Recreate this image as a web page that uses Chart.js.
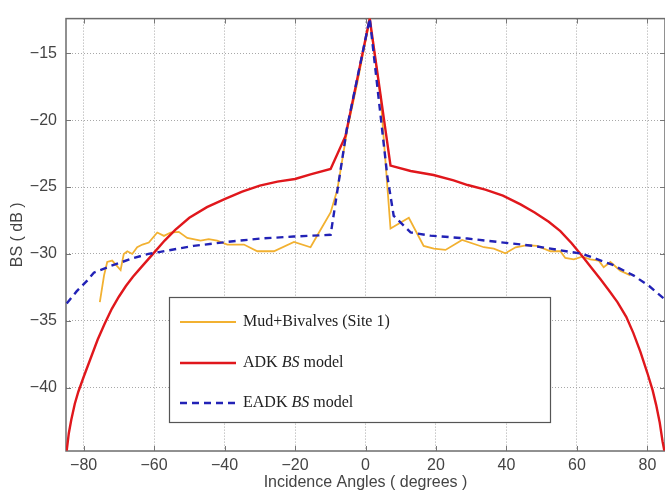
<!DOCTYPE html>
<html>
<head>
<meta charset="utf-8">
<script src="https://cdn.jsdelivr.net/npm/chart.js@4.4.1/dist/chart.umd.min.js"></script>
<style>
  html, body { margin: 0; padding: 0; background: #fff; }
  canvas { display: block; }
</style>
</head>
<body>
<canvas id="chart" width="665" height="491"></canvas>
<script>
// measured backscatter, Mud+Bivalves (Site 1)
const mudAngles = [-75.4, -74.2, -73.3, -71.9, -69.5, -68.6, -67.6, -66.2, -64.8, -63.3, -61.5, -59.1, -57.2, -55.3,
  -53.0, -50.6, -46.8, -44.5, -42.1, -39.2, -34.5, -30.7, -26.0, -20.3, -15.6, -13.2, -9.9, -8.0, -5.2, -2.4,
  1.2, 4.3, 7.1, 12.3, 16.5, 19.4, 22.7, 27.4, 33.6, 36.4, 39.7, 42.6, 45.9, 48.7, 52.5, 55.3, 56.7, 59.1,
  61.5, 63.8, 66.2, 67.6, 69.5, 72.3, 75.2];
const mudBS = [-33.6, -31.6, -30.6, -30.5, -31.2, -30.0, -29.8, -30.0, -29.5, -29.3, -29.15, -28.4, -28.65, -28.4,
  -28.35, -28.8, -29.0, -28.9, -29.0, -29.3, -29.3, -29.8, -29.8, -29.1, -29.5, -28.4, -26.9, -25.2, -20.75, -17.3,
  -12.5, -18.3, -28.1, -27.3, -29.4, -29.6, -29.7, -28.95, -29.5, -29.6, -29.95, -29.5, -29.35, -29.4, -29.8, -29.8, -30.3, -30.4,
  -30.2, -30.4, -30.5, -31.0, -30.6, -31.25, -31.6];

// ADK model
const adkAngles = [-84.8, -84.2, -83.5, -82.5, -81.5, -80, -78, -76, -74, -72, -70, -68, -66, -64, -62, -60,
  -57, -54, -50, -45, -40, -35, -30, -25, -20, -15.6, -9.9, -5.7, 1.2, 7.1, 12.8, 19.3, 25, 29, 34, 39, 44,
  48, 52, 55.3, 58.5, 61.6, 64, 66.7, 69, 71.5, 74, 76, 78, 80, 81.5, 82.5, 83.5, 84.3, 84.8];
const adkBS = [-44.7, -43.4, -42.4, -41.2, -40.3, -39.2, -37.8, -36.4, -35.2, -34.1, -33.2, -32.4, -31.7, -31.1, -30.5, -29.9,
  -29.0, -28.2, -27.3, -26.5, -25.9, -25.35, -24.9, -24.6, -24.4, -24.05, -23.65, -21.2, -12.4, -23.4, -23.8, -24.1, -24.5, -24.85, -25.2, -25.65, -26.3,
  -26.9, -27.6, -28.3, -29.2, -30.2, -31.0, -31.9, -32.7, -33.6, -34.7, -35.9, -37.3, -38.9, -40.2, -41.3, -42.6, -44.0, -44.7];

// EADK model
const eadkAngles = [-84.8, -82, -79, -77.1, -72.3, -65.8, -61.6, -48.8, -39.2, -29.8, -20.4, -9.9, -5.2, 1.2,
  6.2, 8.0, 12.8, 18.4, 28.9, 47.7, 61.6, 70, 76.0, 80.5, 85];
const eadkBS = [-33.7, -32.8, -32.0, -31.4, -30.9, -30.3, -30.0, -29.4, -29.1, -28.85, -28.7, -28.57, -20.5, -12.4,
  -24.2, -27.15, -28.39, -28.63, -28.85, -29.4, -30.0, -30.8, -31.6, -32.4, -33.4];

const xTickValues = [-80, -60, -40, -20, 0, 20, 40, 60, 80];
const yTickValues = [-40, -35, -30, -25, -20, -15];

const toPoints = (xs, ys) => xs.map((x, i) => ({ x: x, y: ys[i] }));
const fmt = v => (v < 0 ? '\u2212' : '') + Math.abs(v);

const frame = {
  id: 'frame',
  beforeDatasetsDraw(chart) {
    const { ctx, chartArea: a, scales } = chart;
    ctx.save();
    ctx.strokeStyle = '#777';
    ctx.lineWidth = 1;
    ctx.beginPath();
    scales.x.ticks.forEach(t => {
      const px = Math.round(scales.x.getPixelForValue(t.value)) + 0.5;
      ctx.moveTo(px, a.bottom); ctx.lineTo(px, a.bottom - 5);
      ctx.moveTo(px, a.top); ctx.lineTo(px, a.top + 5);
    });
    scales.y.ticks.forEach(t => {
      const py = Math.round(scales.y.getPixelForValue(t.value)) + 0.5;
      ctx.moveTo(a.left, py); ctx.lineTo(a.left + 5, py);
      ctx.moveTo(a.right, py); ctx.lineTo(a.right - 5, py);
    });
    ctx.stroke();
    ctx.lineWidth = 1.5;
    ctx.strokeStyle = '#6c6c6c';
    ctx.strokeRect(a.left, a.top, a.right - a.left, a.bottom - a.top);
    ctx.restore();
  }
};

const legendBox = {
  id: 'legendBox',
  afterDatasetsDraw(chart) {
    const { ctx } = chart;
    const x0 = 169, y0 = 297, w = 381, h = 125;
    const rows = [322, 363, 403];
    ctx.save();
    ctx.fillStyle = '#fff';
    ctx.fillRect(x0, y0, w, h);
    ctx.strokeStyle = '#555';
    ctx.lineWidth = 1.2;
    ctx.strokeRect(x0 + 0.5, y0 + 0.5, w, h);
    chart.data.datasets.forEach((ds, i) => {
      const y = rows[i];
      ctx.beginPath();
      ctx.setLineDash(ds.borderDash || []);
      ctx.strokeStyle = ds.borderColor;
      ctx.lineWidth = ds.borderWidth;
      ctx.moveTo(180, y);
      ctx.lineTo(236, y);
      ctx.stroke();
      ctx.setLineDash([]);
      let x = 243;
      ctx.fillStyle = '#222';
      ctx.textBaseline = 'middle';
      ds.label.split(/(BS)/).forEach(part => {
        if (!part) return;
        ctx.font = (part === 'BS' ? 'italic ' : '') + '16px "Liberation Serif"';
        ctx.fillText(part, x, y);
        x += ctx.measureText(part).width;
      });
    });
    ctx.restore();
  }
};

new Chart(document.getElementById('chart'), {
  type: 'line',
  data: {
    datasets: [{
      label: 'Mud+Bivalves (Site 1)',
      data: toPoints(mudAngles, mudBS),
      borderColor: '#f2b131',
      borderWidth: 1.8,
      pointRadius: 0,
      tension: 0,
      order: 3
    }, {
      label: 'ADK BS model',
      data: toPoints(adkAngles, adkBS),
      borderColor: '#e0171c',
      borderWidth: 2.4,
      pointRadius: 0,
      tension: 0,
      order: 2
    }, {
      label: 'EADK BS model',
      data: toPoints(eadkAngles, eadkBS),
      borderColor: '#2222b6',
      borderWidth: 2.4,
      borderDash: [7, 5],
      pointRadius: 0,
      tension: 0,
      order: 1
    }]
  },
  options: {
    responsive: false,
    animation: false,
    layout: { padding: { top: 14, right: 0, left: 0, bottom: 0 } },
    plugins: {
      legend: { display: false },
      tooltip: { enabled: false }
    },
    scales: {
      x: {
        type: 'linear',
        min: -85,
        max: 85,
        afterBuildTicks: s => { s.ticks = xTickValues.map(v => ({ value: v })); },
        afterFit: s => { s.height = 40; },
        grid: { color: '#a8a8a8', lineWidth: 1, drawTicks: false },
        border: { display: false, dash: [1, 2] },
        ticks: {
          padding: 5,
          color: '#444',
          font: { family: '"Liberation Sans", Arial, sans-serif', size: 16 },
          callback: fmt
        },
        title: {
          display: true,
          text: 'Incidence Angles ( degrees )',
          color: '#444',
          padding: { top: 0, bottom: 0 },
          font: { family: '"Liberation Sans", Arial, sans-serif', size: 16, lineHeight: 1 }
        }
      },
      y: {
        type: 'linear',
        min: -44.73,
        max: -12.41,
        afterBuildTicks: s => { s.ticks = yTickValues.map(v => ({ value: v })); },
        afterFit: s => { s.width = 66; },
        grid: { color: '#a8a8a8', lineWidth: 1, drawTicks: false },
        border: { display: false, dash: [1, 2] },
        ticks: {
          padding: 9,
          color: '#444',
          font: { family: '"Liberation Sans", Arial, sans-serif', size: 16 },
          callback: fmt
        },
        title: {
          display: true,
          text: 'BS ( dB )',
          color: '#444',
          padding: { top: 10, bottom: 0 },
          font: { family: '"Liberation Sans", Arial, sans-serif', size: 16, lineHeight: 1 }
        }
      }
    }
  },
  plugins: [frame, legendBox]
});
</script>
</body>
</html>
